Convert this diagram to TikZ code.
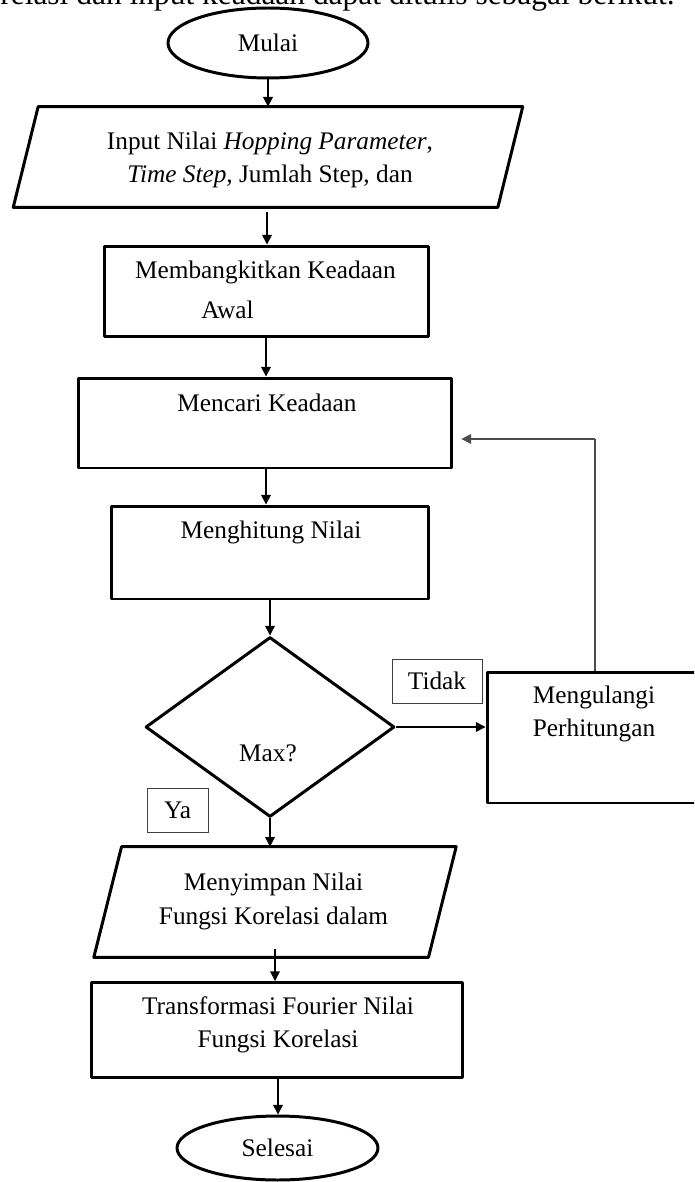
\documentclass[tikz,border=0pt]{standalone}
\usepackage{fontspec}
\setmainfont{Liberation Serif}
\usetikzlibrary{arrows.meta,shapes.geometric}
\begin{document}
\begin{tikzpicture}[x=0.02cm,y=-0.02cm,
  box/.style={draw,line width=1.7pt,line join=round,inner sep=0pt},
  txt/.style={font=\fontsize{14.4}{19}\selectfont,align=center,inner sep=0pt},
  lbl/.style={draw=black!75,line width=0.5pt,inner sep=0pt,font=\fontsize{14.4}{19}\selectfont},
  arr/.style={line width=0.8pt,-{Triangle[length=5.5pt,width=5.5pt]}},
  fbline/.style={draw=black!70,line width=0.6pt}]
\useasboundingbox (0,0) rectangle (694,1182);
\clip (0,0) rectangle (694,1182);
% partial heading text
\node[anchor=base west,inner sep=0pt,font=\fontsize{17.9}{20}\selectfont] (hdr) at (0,5) {relasi dan input keadaan dapat ditulis sebagai berikut.};
% start
\node[box,ellipse,minimum width=4cm,minimum height=1.4cm,txt] (start) at (268,43) {Mulai};
% input parallelogram
\node[minimum width=9.68cm,minimum height=2cm,inner sep=0pt] (in) at (268,157) {};
\draw[box] ([xshift=7.1pt]in.north west) -- ([xshift=7.1pt]in.north east) -- ([xshift=-7.1pt]in.south east) -- ([xshift=-7.1pt]in.south west) -- cycle;
\node[txt] (tin) at (270,160) {Input Nilai \textit{Hopping Parameter},\\\textit{Time Step,} Jumlah Step, dan};
% generate
\node[box,minimum width=6.5cm,minimum height=1.82cm] (gen) at (266.5,291.5) {};
\node[txt] (tgen1) at (265.5,272) {Membangkitkan Keadaan};
\node[txt] (tgen2) at (227.5,310) {Awal};
% find
\node[box,minimum width=7.48cm,minimum height=1.8cm] (find) at (265,423) {};
\node[txt] (tfind) at (267,403) {Mencari Keadaan};
% calc
\node[box,minimum width=6.36cm,minimum height=1.86cm] (calc) at (270,552.5) {};
\node[txt] (tcalc) at (271,532) {Menghitung Nilai};
% decision
\node[box,diamond,minimum width=4.98cm,minimum height=3.6cm] (dec) at (270,727) {};
\node[txt] (tdec) at (268,753) {Max?};
% repeat
\node[box,minimum width=4.26cm,minimum height=2.62cm] (rep) at (593.5,737.5) {};
\node[txt] (trep) at (594,714) {Mengulangi\\Perhitungan};
% labels
\node[lbl,minimum width=1.8cm,minimum height=0.88cm] (tidak) at (437,681) {Tidak};
\node[lbl,minimum width=1.22cm,minimum height=0.88cm] (ya) at (177.5,810) {Ya};
% save parallelogram
\node[minimum width=6.68cm,minimum height=2.2cm,inner sep=0pt] (save) at (275,902) {};
\draw[box] ([xshift=7.9pt]save.north west) -- ([xshift=7.9pt]save.north east) -- ([xshift=-7.9pt]save.south east) -- ([xshift=-7.9pt]save.south west) -- cycle;
\node[txt] (tsave) at (273.5,901.5) {Menyimpan Nilai\\Fungsi Korelasi dalam};
% transform
\node[box,minimum width=7.42cm,minimum height=1.9cm] (trans) at (277,1030) {};
\node[txt] (ttrans) at (278,1025) {Transformasi Fourier Nilai\\Fungsi Korelasi};
% end
\node[box,ellipse,minimum width=4.02cm,minimum height=1.28cm,txt] (end) at (277.5,1148) {Selesai};
% connectors
\draw[arr] (start.south) -- (start.south |- in.north);
\draw[arr,shorten <=2.8pt] (in.south -| 267,0) -- (gen.north -| 267,0);
\draw[arr] (gen.south -| 266,0) -- (find.north -| 266,0);
\draw[arr] (find.south -| 266,0) -- (calc.north -| 266,0);
\draw[arr] (calc.south -| dec.north) -- (dec.north);
\draw[arr] (dec.east) -- (dec.east -| rep.west);
\coordinate (fb) at (595,439);
\draw[fbline] (rep.north -| fb) -- (fb);
\draw[fbline,arr,line width=0.6pt] (fb) -- ([xshift=4.5pt]find.east |- fb);
\draw[arr] (dec.south) -- (dec.south |- save.north);
\draw[arr,shorten <=-5pt] (save.south -| 275,0) -- (trans.north -| 275,0);
\draw[arr] (trans.south -| 278,0) -- (end.north -| 278,0);
\end{tikzpicture}
\end{document}
